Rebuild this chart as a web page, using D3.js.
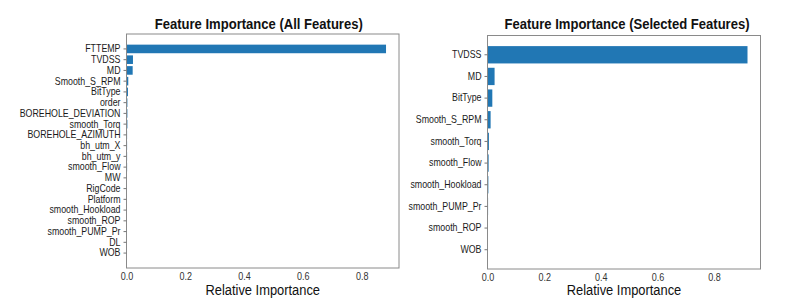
<!DOCTYPE html>
<html>
<head>
<meta charset="utf-8">
<script src="https://cdn.jsdelivr.net/npm/d3@7"></script>
<style>
  body { margin: 0; background: #fff; }
  svg { display: block; font-family: "Liberation Sans", Arial, sans-serif; }
</style>
</head>
<body>
<svg id="chart" width="806" height="307"></svg>
<script>
// feature names, top to bottom as they appear
const allFeatures = ["FTTEMP", "TVDSS", "MD", "Smooth_S_RPM", "BitType", "order",
  "BOREHOLE_DEVIATION", "smooth_Torq", "BOREHOLE_AZIMUTH", "bh_utm_X", "bh_utm_y",
  "smooth_Flow", "MW", "RigCode", "Platform", "smooth_Hookload", "smooth_ROP",
  "smooth_PUMP_Pr", "DL", "WOB"];
const allValues = [0.883, 0.022, 0.021, 0.006, 0.005, 0.003, 0.003, 0.003, 0.002, 0.002,
  0.002, 0.002, 0.001, 0.0008, 0.0006, 0.0005, 0.0004, 0.0003, 0.0002, 0.0001];

const selFeatures = ["TVDSS", "MD", "BitType", "Smooth_S_RPM", "smooth_Torq", "smooth_Flow",
  "smooth_Hookload", "smooth_PUMP_Pr", "smooth_ROP", "WOB"];
const selValues = [0.918, 0.025, 0.017, 0.011, 0.005, 0.004, 0.003, 0.002, 0.0015, 0.001];

const xTicks = [0, 0.2, 0.4, 0.6, 0.8];

const svg = d3.select("#chart");

// the picture is a bit squeezed sideways, so squeeze the text the same way
function squeeze(sel, k) {
  sel.each(function() {
    const len = this.getComputedTextLength();
    d3.select(this).attr("textLength", len * k).attr("lengthAdjust", "spacingAndGlyphs");
  });
}

function drawPanel(opt) {
  const g = svg.append("g");
  const n = opt.names.length;

  // matplotlib style: bars 0.8 wide, 5% margins
  const x = d3.scaleLinear()
    .domain([0, d3.max(opt.values) * 1.05])
    .range([opt.left, opt.right]);
  const y = d3.scaleBand()
    .domain(opt.names)
    .range([opt.top, opt.bottom])
    .paddingInner(0.2)
    .paddingOuter(0.05 * (n - 0.2));

  g.selectAll(".bar")
    .data(opt.values)
    .enter().append("rect")
    .attr("class", "bar")
    .attr("x", x(0))
    .attr("y", function(d, i) { return y(opt.names[i]); })
    .attr("width", function(d) { return Math.max(0, x(d) - x(0)); })
    .attr("height", y.bandwidth())
    .attr("fill", "#2177b4");

  // frame
  g.append("rect")
    .attr("x", opt.left).attr("y", opt.top)
    .attr("width", opt.right - opt.left).attr("height", opt.bottom - opt.top)
    .attr("fill", "none").attr("stroke", "#8a8a8a").attr("stroke-width", 1);

  // y axis
  const yAxis = g.append("g")
    .attr("transform", "translate(" + opt.left + ",0)")
    .call(d3.axisLeft(y).tickSize(3).tickPadding(3));
  yAxis.select(".domain").remove();
  yAxis.selectAll("line").attr("stroke", "#777");
  yAxis.selectAll("text")
    .attr("fill", "#1a1a1a")
    .style("font-size", "10.5px")
    .call(squeeze, 0.84);

  // x axis
  const xAxis = g.append("g")
    .attr("transform", "translate(0," + opt.bottom + ")")
    .call(d3.axisBottom(x).tickValues(xTicks).tickFormat(d3.format(".1f")).tickSize(0).tickPadding(5));
  xAxis.select(".domain").remove();
  xAxis.selectAll("text")
    .attr("fill", "#333")
    .style("font-size", "10px")
    .call(squeeze, 0.9);

  g.append("text")
    .attr("x", (opt.left + opt.right) / 2 + opt.titleShift)
    .attr("y", 29)
    .attr("text-anchor", "middle")
    .style("font-size", "14.5px")
    .style("font-weight", "bold")
    .attr("fill", "#111")
    .text(opt.title)
    .call(squeeze, 0.9);

  g.append("text")
    .attr("x", (opt.left + opt.right) / 2 + opt.labelShift)
    .attr("y", 295)
    .attr("text-anchor", "middle")
    .style("font-size", "14px")
    .attr("fill", "#111")
    .text("Relative Importance")
    .call(squeeze, 0.92);
}

drawPanel({
  names: allFeatures, values: allValues,
  left: 126.5, right: 399, top: 34, bottom: 268,
  title: "Feature Importance (All Features)", titleShift: -4, labelShift: 0,
});

drawPanel({
  names: selFeatures, values: selValues,
  left: 487.5, right: 760.5, top: 35.5, bottom: 269,
  title: "Feature Importance (Selected Features)", titleShift: 3, labelShift: 0,
});
</script>
</body>
</html>
